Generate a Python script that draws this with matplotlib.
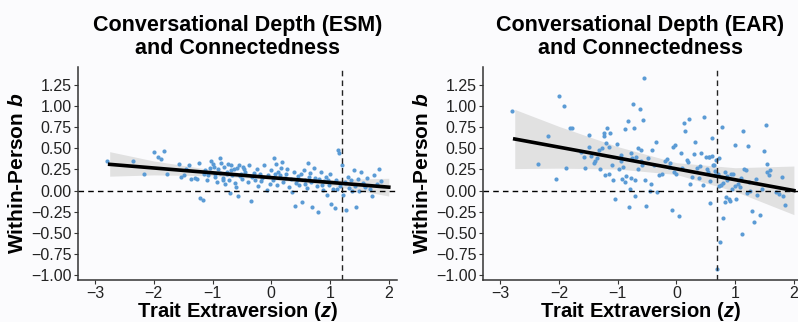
import matplotlib
matplotlib.use("Agg")
import matplotlib.pyplot as plt
import numpy as np

plt.rcParams['font.family'] = ['Liberation Sans', 'DejaVu Sans']
plt.rcParams['mathtext.fontset'] = 'custom'
plt.rcParams['mathtext.it'] = 'Liberation Sans:italic:bold'
plt.rcParams['mathtext.rm'] = 'Liberation Sans:bold'

# ESM panel: person-level slopes
esm_x = [-2.79, -2.35, -2.17, -2.00, -1.93, -1.87, -1.82, -1.77, -1.57, -1.53, -1.48, -1.45,
         -1.40, -1.37, -1.30, -1.26, -1.23, -1.21, -1.17, -1.15, -1.12, -1.08, -1.03, -1.00,
         -0.98, -0.95, -0.92, -0.90, -0.87, -0.85, -0.83, -0.80, -0.78, -0.76, -0.73, -0.72,
         -0.70, -0.68, -0.66, -0.64, -0.60, -0.58, -0.57, -0.55, -0.52, -0.50, -0.48, -0.45,
         -0.40, -0.38, -0.35, -0.32, -0.28, -0.25, -0.22, -0.20, -0.16, -0.12, -0.08, -0.05,
         -0.02, 0.00, 0.03, 0.05, 0.08, 0.10, 0.12, 0.15, 0.18, 0.20, 0.23, 0.27, 0.30, 0.33,
         0.35, 0.38, 0.40, 0.42, 0.45, 0.48, 0.50, 0.52, 0.55, 0.57, 0.60, 0.62, 0.65, 0.68,
         0.70, 0.72, 0.75, 0.78, 0.80, 0.82, 0.85, 0.88, 0.90, 0.93, 0.95, 0.98, 1.00, 1.02,
         1.05, 1.08, 1.10, 1.13, 1.15, 1.17, 1.20, 1.22, 1.25, 1.28, 1.30, 1.33, 1.36, 1.40,
         1.43, 1.45, 1.48, 1.50, 1.53, 1.56, 1.60, 1.63, 1.68, 1.72, 1.75, 1.80, 1.84, 1.87,
         -1.10, -1.05, -0.96, -0.88, -0.82, -0.75, -0.69, -0.62, -0.54, -0.46, -0.30, -0.18,
         0.07, 0.16, 0.25, 0.44, 0.58, 0.66, 0.74, 0.86, 0.97, 1.12, 1.26, 1.38, 1.58]
esm_y = [0.35, 0.35, 0.19, 0.46, 0.40, 0.37, 0.47, 0.20, 0.31, 0.16, 0.18, 0.25,
         0.30, 0.14, 0.15, 0.14, 0.33, -0.09, -0.11, 0.20, 0.24, 0.18, 0.35, 0.32,
         0.28, 0.20, 0.10, 0.25, 0.39, 0.33, 0.15, 0.28, 0.08, 0.22, 0.31, 0.12,
         -0.03, 0.30, 0.18, 0.25, 0.04, 0.27, -0.06, 0.30, 0.19, 0.14, 0.28, 0.22,
         0.10, 0.30, -0.12, 0.16, 0.12, 0.26, 0.05, 0.20, 0.15, 0.30, 0.01, 0.18,
         0.08, 0.24, 0.13, 0.39, 0.31, 0.06, 0.22, 0.18, 0.34, 0.10, 0.15, 0.26, 0.04, 0.14,
         -0.02, 0.22, -0.18, 0.09, 0.17, 0.06, 0.20, -0.13, 0.24, 0.12, 0.03, 0.33, 0.16, 0.10,
         -0.19, 0.27, 0.13, 0.05, -0.25, 0.14, 0.22, 0.01, 0.11, 0.16, -0.05, 0.07, 0.19, -0.16,
         0.02, -0.21, 0.12, 0.48, 0.44, 0.05, 0.30, -0.05, 0.10, -0.23, 0.16, 0.03, 0.12, 0.24,
         0.05, -0.19, 0.14, 0.00, 0.22, 0.09, 0.04, 0.15, 0.02, -0.07, 0.18, 0.08, 0.26, 0.11,
         0.13, 0.27, 0.16, 0.21, 0.12, 0.19, 0.24, 0.09, 0.17, 0.26, 0.21, 0.11,
         0.20, 0.27, 0.19, 0.13, 0.08, 0.21, 0.15, 0.07, 0.12, 0.02, 0.09, -0.01, 0.06]

# EAR panel: person-level slopes
ear_x = [-2.80, -2.35, -2.18, -2.05, -2.00, -1.92, -1.87, -1.81, -1.78, -1.58, -1.55, -1.49,
         -1.48, -1.45, -1.38, -1.32, -1.30, -1.23, -1.23, -1.22, -1.18, -1.14, -1.13, -1.10,
         -1.07, -1.05, -1.01, -0.98, -0.94, -0.90, -0.87, -0.85, -0.83, -0.81, -0.79, -0.77,
         -0.76, -0.74, -0.72, -0.71, -0.70, -0.68, -0.62, -0.61, -0.60, -0.56, -0.55, -0.53,
         -0.51, -0.48, -0.44, -0.35, -0.33, -0.25, -0.20, -0.12, -0.08, -0.06, -0.02, 0.00,
         0.05, 0.13, 0.15, 0.18, 0.21, 0.24, 0.31, 0.35, 0.38, 0.47, 0.50, 0.53, 0.57, 0.61,
         0.62, 0.66, 0.68, 0.70, 0.72, 0.75, 0.78, 0.80, 0.82, 0.84, 0.87, 0.91, 0.95, 0.99,
         1.02, 1.05, 1.12, 1.13, 1.18, 1.22, 1.24, 1.28, 1.32, 1.38, 1.42, 1.49, 1.52, 1.54,
         1.58, 1.75, 1.80, 1.85, -1.62, -1.40, -1.27, -1.15, -0.95, -0.88, -0.66, -0.58,
         -0.42, -0.30, -0.16, -0.04, 0.08, 0.10, 0.20, 0.27, 0.42, 0.45, 0.55, 0.58, 0.64,
         0.73, 0.76, 0.83, 0.86, 0.93, 1.08, 1.15, 1.25, 1.35, 1.45, 1.55, 1.70, 1.82,
         -0.65, -0.45, 0.30, 0.52, 0.60, 0.71, 0.90, 1.00, 1.20, 1.60,
         -1.35, -1.20, -0.92, -0.78, -0.38, -0.10, 0.40, 0.56, 0.65, 0.79, 0.97, 1.10]
ear_y = [0.94, 0.31, 0.64, 0.14, 1.12, 1.00, 0.27, 0.74, 0.74, 0.40, 0.27, 0.66,
         0.51, 0.41, 0.35, 0.48, 0.26, 0.68, 0.65, 0.18, 0.74, 0.52, 0.68, 0.30,
         0.13, -0.10, 0.55, 0.25, 0.35, 0.28, 0.73, 0.17, 0.82, -0.20, 0.02, 0.15,
         0.38, 1.03, 0.74, 0.12, -0.06, 0.40, 0.96, 0.48, 0.35, 0.83, 1.33, 0.12,
         -0.18, 0.38, 0.08, 0.58, -0.02, 0.20, 0.35, 0.28, -0.23, 0.52, 0.54, 0.20,
         -0.30, 0.80, 0.71, 0.36, 0.85, 0.08, 0.58, 0.27, 0.15, 0.87, 0.40, 0.22, -0.15, 0.62,
         0.30, 0.18, 0.36, -0.93, 0.05, -0.61, 0.75, -0.33, 0.22, -0.08, 0.12, -0.12, 0.02, 0.54,
         -0.10, 0.08, -0.52, 0.71, 0.24, 0.53, 0.10, -0.24, -0.37, -0.05, -0.29, 0.47, 0.77, 0.22,
         0.18, -0.04, 0.16, -0.17, 0.46, 0.33, 0.50, 0.20, 0.42, 0.10, 0.26, 0.30,
         0.48, 0.18, 0.37, 0.22, 0.45, 0.27, 0.34, 0.16, 0.44, 0.06, 0.40, 0.11, 0.30,
         0.38, 0.06, -0.14, 0.17, 0.20, 0.04, 0.26, 0.00, 0.14, 0.02, 0.32, -0.02, -0.07,
         0.50, 0.00, 0.43, 0.25, 0.41, 0.20, -0.10, 0.05, -0.03, 0.24,
         0.38, 0.56, 0.14, 0.44, 0.30, 0.33, 0.29, 0.40, 0.23, 0.09, 0.19, 0.15]

# fitted lines and 95% bands
fit_x = [-2.75, -2.0, -1.0, 0.0, 1.0, 2.0]
esm_fit = [0.31, 0.267, 0.21, 0.153, 0.096, 0.04]
esm_lo = [0.17, 0.185, 0.175, 0.13, 0.063, -0.065]
esm_hi = [0.46, 0.35, 0.245, 0.178, 0.13, 0.145]
ear_fit = [0.61, 0.514, 0.386, 0.257, 0.128, 0.0]
ear_lo = [0.26, 0.265, 0.255, 0.19, -0.01, -0.285]
ear_hi = [0.96, 0.76, 0.52, 0.33, 0.27, 0.29]

titles = ['Conversational Depth (ESM)\nand Connectedness',
          'Conversational Depth (EAR)\nand Connectedness']
cutoffs = [1.21, 0.69]
yticks = [-1.0, -0.75, -0.5, -0.25, 0.0, 0.25, 0.5, 0.75, 1.0, 1.25]

BG = '#fbfbfd'
PT = '#5b9bd5'

fig = plt.figure(figsize=(7.98, 3.22), dpi=100)
fig.patch.set_facecolor(BG)

panels = [
    (esm_x, esm_y, esm_fit, esm_lo, esm_hi, [0.0977, 0.1304, 0.3998, 0.6617], (-3.29, 2.14)),
    (ear_x, ear_y, ear_fit, ear_lo, ear_hi, [0.6053, 0.1304, 0.3947, 0.6617], (-3.29, 2.07)),
]

for i, (px, py, fy, lo, hi, rect, xl) in enumerate(panels):
    ax = fig.add_axes(rect)
    ax.set_facecolor(BG)
    ax.fill_between(fit_x, lo, hi, color='#d6d6d6', alpha=0.7, lw=0, zorder=1)
    ax.scatter(px, py, s=9, color=PT, lw=0, zorder=2)
    ax.plot(fit_x, fy, color='black', lw=2.6, zorder=3)
    ax.axhline(0, color='black', ls=(0, (4, 3)), lw=1.0, zorder=2)
    ax.axvline(cutoffs[i], color='#222222', ls=(0, (4, 3)), lw=1.0, zorder=2)
    ax.set_xlim(*xl)
    ax.set_ylim(-1.059, 1.463)
    ax.set_yticks(yticks)
    ax.set_yticklabels([f'{v:.2f}'.replace('-', '\u2212') for v in yticks])
    ax.set_xticks([-3, -2, -1, 0, 1, 2])
    ax.set_xticklabels(['\u22123', '\u22122', '\u22121', '0', '1', '2'])
    for s in ['top', 'right']:
        ax.spines[s].set_visible(False)
    for s in ['left', 'bottom']:
        ax.spines[s].set_color('#333333')
        ax.spines[s].set_linewidth(1.1)
    ax.tick_params(labelsize=11.5, length=3, color='#333333', labelcolor='#222222', pad=1.5)
    ax.set_title(titles[i], fontsize=15.5, fontweight='bold', linespacing=1.15, pad=9)
    ax.set_xlabel('Trait Extraversion ($z$)', fontsize=14.5, fontweight='bold', labelpad=-1)
    ax.set_ylabel('Within-Person $b$', fontsize=15, fontweight='bold', labelpad=3)

fig.savefig('out.png', dpi=100, facecolor=BG)
